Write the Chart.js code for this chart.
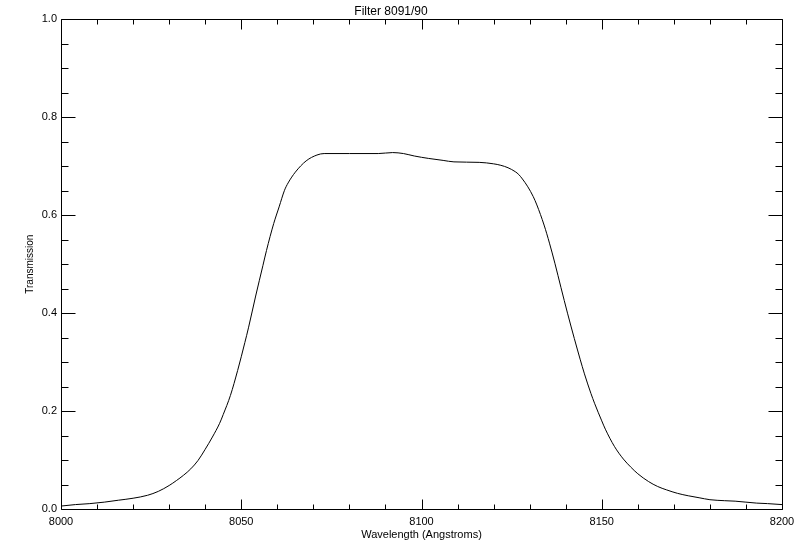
<!DOCTYPE html>
<html lang="en">
<head>
  <meta charset="UTF-8">
  <title>Filter 8091/90</title>
  <style>
    body {
      margin: 0;
      background-color: #ffffff;
    }
    canvas {
      display: block;
    }
  </style>
  <script src="https://cdn.jsdelivr.net/npm/chart.js"></script>
</head>
<body>
  <canvas id="filterChart" width="800" height="550"></canvas>

  <script>
    // Filter curve
    const wavelength = [
      8000, 8004, 8008, 8012, 8016, 8020, 8024, 8027, 8030, 8032,
      8034, 8036, 8038, 8040, 8042, 8044, 8045, 8047, 8049, 8051,
      8052, 8054, 8056, 8057, 8059, 8060.5, 8062, 8063, 8065, 8068,
      8071, 8073, 8080, 8088, 8092, 8095, 8098, 8102, 8106, 8109,
      8116, 8120, 8122, 8124, 8126, 8127, 8128, 8129.5, 8131, 8132,
      8134, 8135.5, 8137, 8138.7, 8140.5, 8142.4, 8144, 8145.2, 8147, 8148,
      8150, 8151, 8153.5, 8156, 8158, 8160, 8163, 8165.5, 8168, 8171,
      8174, 8177, 8180, 8184, 8187, 8190, 8193, 8196, 8200
    ];
    const transmission = [
      0.006, 0.009, 0.011, 0.014, 0.018, 0.022, 0.028, 0.036, 0.048, 0.058,
      0.069, 0.082, 0.099, 0.122, 0.147, 0.175, 0.193, 0.232, 0.283, 0.340,
      0.370, 0.435, 0.497, 0.528, 0.583, 0.617, 0.651, 0.666, 0.688, 0.711,
      0.723, 0.726, 0.726, 0.726, 0.728, 0.726, 0.721, 0.716, 0.712, 0.709,
      0.708, 0.705, 0.702, 0.697, 0.689, 0.683, 0.674, 0.658, 0.638, 0.621,
      0.580, 0.543, 0.502, 0.452, 0.400, 0.348, 0.306, 0.276, 0.236, 0.216,
      0.180, 0.163, 0.128, 0.102, 0.086, 0.072, 0.056, 0.046, 0.039, 0.032,
      0.027, 0.023, 0.019, 0.017, 0.016, 0.014, 0.012, 0.011, 0.009
    ];

    const xTickLabels = [8000, 8050, 8100, 8150, 8200];
    const yTickLabels = ['0.0', '0.2', '0.4', '0.6', '0.8', '1.0'];
    const xMinorStep = 10;
    const yMinorStep = 0.05;

    const fontFamily = '"Liberation Sans", Arial, sans-serif';

    // IDL style box with ticks pointing inward on all four sides
    const boxTicks = {
      id: 'boxTicks',
      afterDraw(chart) {
        const { ctx, chartArea } = chart;
        const xs = chart.scales.x;
        const ys = chart.scales.y;
        const l = Math.round(chartArea.left) + 0.5;
        const r = Math.round(chartArea.right) + 0.5;
        const t = Math.round(chartArea.top) + 0.5;
        const b = Math.round(chartArea.bottom) + 0.5;

        ctx.save();
        ctx.strokeStyle = '#000000';
        ctx.lineWidth = 1;
        ctx.beginPath();
        ctx.rect(l, t, r - l, b - t);

        for (let v = xs.min; v <= xs.max + 1e-6; v += xMinorStep) {
          const px = Math.round(xs.getPixelForValue(v)) + 0.5;
          const len = xTickLabels.includes(Math.round(v)) ? 10 : 5;
          ctx.moveTo(px, b);
          ctx.lineTo(px, b - len);
          ctx.moveTo(px, t);
          ctx.lineTo(px, t + len);
        }
        for (let i = 0; i * yMinorStep <= ys.max + 1e-6; i++) {
          const v = i * yMinorStep;
          const py = Math.round(ys.getPixelForValue(v)) + 0.5;
          const len = i % 4 === 0 ? 14 : 7;
          ctx.moveTo(l, py);
          ctx.lineTo(l + len, py);
          ctx.moveTo(r, py);
          ctx.lineTo(r - len, py);
        }
        ctx.stroke();
        ctx.restore();
      }
    };

    const ctx = document.getElementById('filterChart').getContext('2d');
    new Chart(ctx, {
      type: 'line',
      data: {
        datasets: [{
          data: wavelength.map((w, i) => ({ x: w, y: transmission[i] })),
          borderColor: '#000000',
          borderWidth: 1,
          pointRadius: 0,
          cubicInterpolationMode: 'monotone',
          fill: false
        }]
      },
      options: {
        responsive: false,
        animation: false,
        layout: { padding: { left: 0, right: 18, top: 0, bottom: 0 } },
        plugins: {
          legend: { display: false },
          tooltip: { enabled: false },
          title: {
            display: true,
            text: 'Filter 8091/90',
            color: '#000000',
            font: { family: fontFamily, size: 12, weight: 'normal' },
            padding: { top: 4, bottom: 1 }
          }
        },
        scales: {
          x: {
            type: 'linear',
            min: 8000,
            max: 8200,
            grid: { display: false, drawTicks: false },
            border: { display: false },
            ticks: {
              stepSize: 50,
              padding: 6,
              color: '#000000',
              font: { family: fontFamily, size: 11 },
              maxRotation: 0,
              callback: (v) => xTickLabels.includes(v) ? String(v) : ''
            },
            title: {
              display: true,
              text: 'Wavelength (Angstroms)',
              color: '#000000',
              font: { family: fontFamily, size: 11 },
              padding: { top: 0, bottom: 8 }
            },
            afterFit(scale) {
              scale.height = 41;
              scale.paddingLeft = 0;
              scale.paddingRight = 0;
            }
          },
          y: {
            min: 0,
            max: 1,
            grid: { display: false, drawTicks: false },
            border: { display: false },
            ticks: {
              stepSize: 0.2,
              padding: 4,
              color: '#000000',
              font: { family: fontFamily, size: 11 },
              callback: (v) => yTickLabels[Math.round(v / 0.2)]
            },
            title: {
              display: true,
              text: 'Transmission',
              color: '#000000',
              font: { family: fontFamily, size: 10 },
              padding: { top: 24, bottom: 0 }
            },
            afterFit(scale) {
              scale.width = 61;
              scale.paddingTop = 0;
              scale.paddingBottom = 0;
            }
          }
        }
      },
      plugins: [boxTicks]
    });
  </script>
</body>
</html>
